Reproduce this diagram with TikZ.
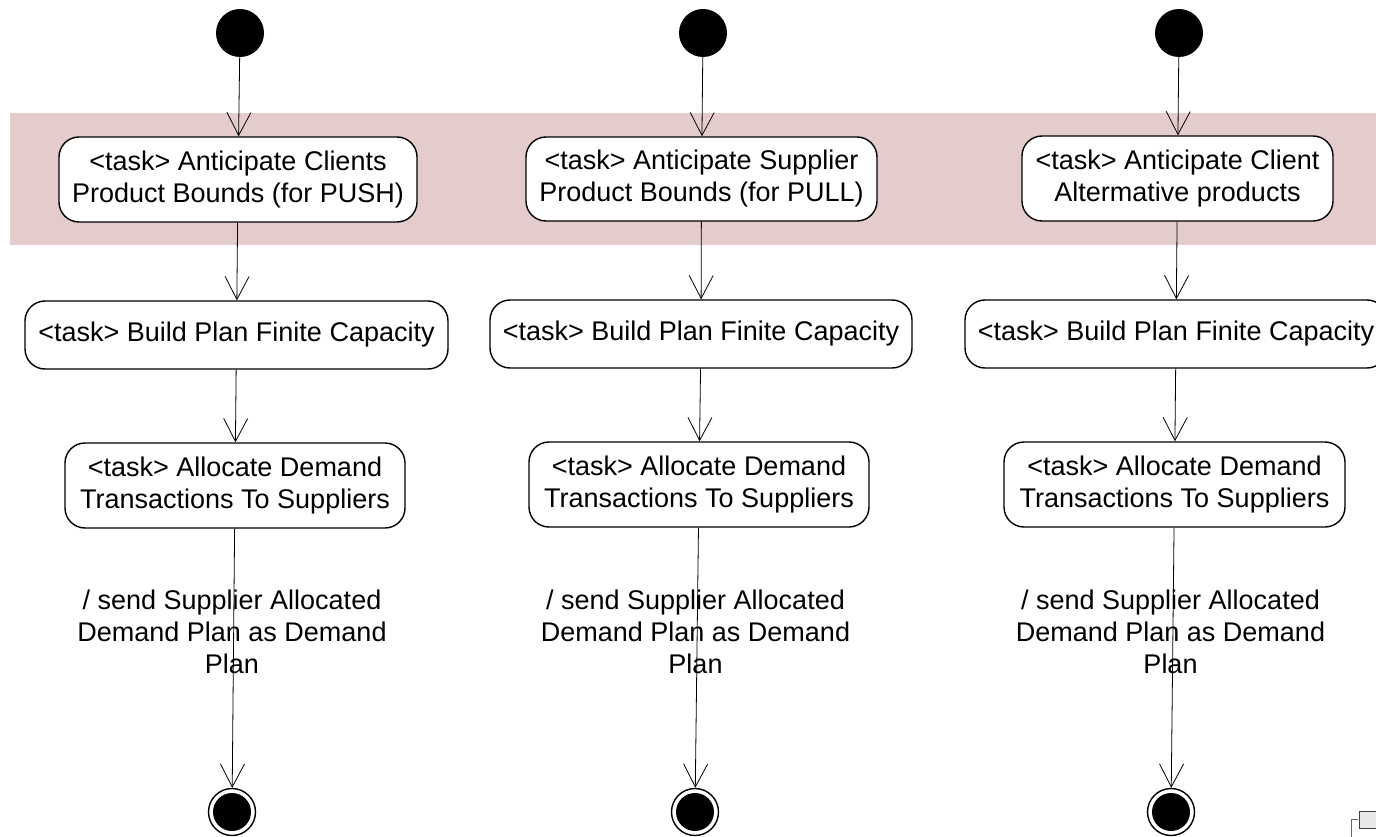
\documentclass[tikz,border=0pt]{standalone}
\usepackage{fontspec}
\setmainfont{Liberation Sans}
\usetikzlibrary{arrows.meta}
\definecolor{bandpink}{RGB}{228,204,204}
\definecolor{artgrey}{RGB}{232,232,232}
\begin{document}
\begin{tikzpicture}[x=1pt,y=-1pt,
  task/.style={draw=black,line width=1.4pt,fill=white,rounded corners=20pt,
    align=center,inner sep=0pt,font=\fontsize{27}{32}\selectfont},
  startnode/.style={circle,fill=black,minimum size=48pt,inner sep=0pt},
  endnode/.style={circle,draw=black,line width=1.4pt,fill=white,minimum size=47pt,inner sep=0pt,
    path picture={\fill[black] (path picture bounding box.center) circle (19pt);}},
  flow/.style={draw=black,line width=0.8pt,-{Straight Barb[length=23pt,width=24pt,line width=0.8pt]}},
  lbl/.style={align=center,font=\fontsize{27}{32}\selectfont,inner sep=0pt}]
\useasboundingbox (0,0) rectangle (1376,837);
\fill[bandpink] (10,113) rectangle (1376,245);

% column 1
\node[startnode] (s1) at (240,33) {};
\node[task,minimum width=358pt,minimum height=85pt] (a1) at (238,179.5) {<task> Anticipate Clients\\Product Bounds (for PUSH)};
\node[task,minimum width=423pt,minimum height=68pt] (p1) at (236.5,335) {<task> Build Plan Finite Capacity};
\node[task,minimum width=340pt,minimum height=85pt] (d1) at (235,485.5) {<task> Allocate Demand\\Transactions To Suppliers};
\node[endnode] (e1) at (232,812) {};
\draw[flow] (s1) -- (a1);
\draw[flow] (a1) -- (p1);
\draw[flow] (p1) -- (d1);
\draw[flow] (d1) -- (e1);
\node[lbl] (l1) at (232,632) {/ send Supplier Allocated\\Demand Plan as Demand\\Plan};

% column 2
\node[startnode] (s2) at (703,33) {};
\node[task,minimum width=351pt,minimum height=84pt] (a2) at (701.5,179) {<task> Anticipate Supplier\\Product Bounds (for PULL)};
\node[task,minimum width=422pt,minimum height=68pt] (p2) at (701,334) {<task> Build Plan Finite Capacity};
\node[task,minimum width=340pt,minimum height=85pt] (d2) at (699,484.5) {<task> Allocate Demand\\Transactions To Suppliers};
\node[endnode] (e2) at (695,812) {};
\draw[flow] (s2) -- (a2);
\draw[flow] (a2) -- (p2);
\draw[flow] (p2) -- (d2);
\draw[flow] (d2) -- (e2);
\node[lbl] (l2) at (695.5,632) {/ send Supplier Allocated\\Demand Plan as Demand\\Plan};

% column 3
\node[startnode] (s3) at (1179,33) {};
\node[task,minimum width=311pt,minimum height=85pt] (a3) at (1177.5,178.5) {<task> Anticipate Client\\Altermative products};
\node[task,minimum width=422pt,minimum height=68pt] (p3) at (1176,334) {<task> Build Plan Finite Capacity};
\node[task,minimum width=341pt,minimum height=85pt] (d3) at (1174.5,484.5) {<task> Allocate Demand\\Transactions To Suppliers};
\node[endnode] (e3) at (1171,812) {};
\draw[flow] (s3) -- (a3);
\draw[flow] (a3) -- (p3);
\draw[flow] (p3) -- (d3);
\draw[flow] (d3) -- (e3);
\node[lbl] (l3) at (1170.5,632) {/ send Supplier Allocated\\Demand Plan as Demand\\Plan};

% small artefact at the bottom right corner
\draw[black!60,line width=0.6pt] (1351,837) -- (1351,819) -- (1358,819);
\draw[black!75,line width=1pt,fill=artgrey] (1359,811) rectangle (1380,828);
\end{tikzpicture}
\end{document}
